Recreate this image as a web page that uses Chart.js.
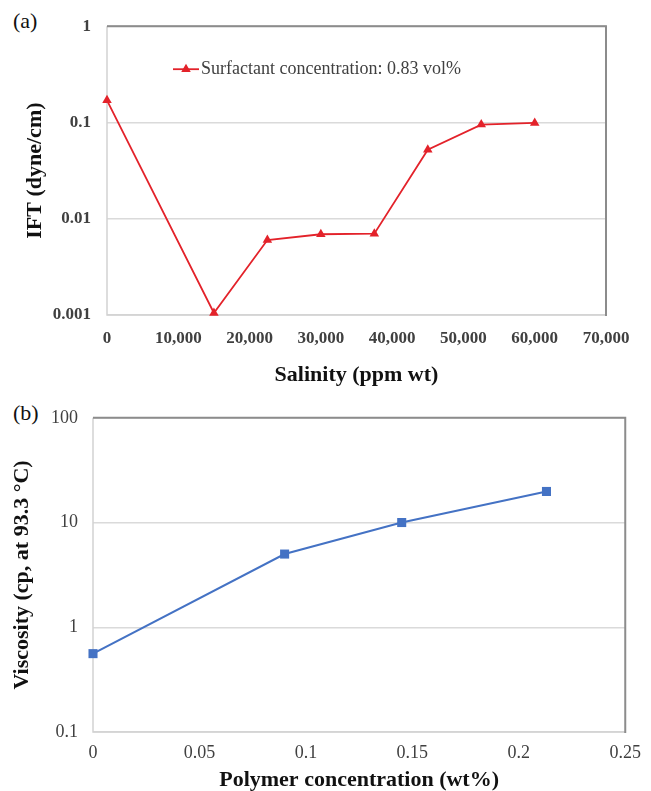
<!DOCTYPE html>
<html>
<head>
<meta charset="utf-8">
<title>IFT and viscosity</title>
<script src="https://cdn.jsdelivr.net/npm/chart.js@4.4.1/dist/chart.umd.min.js"></script>
<style>
  html, body { margin: 0; padding: 0; background: #fff; }
  #page { position: relative; width: 651px; height: 791px; overflow: hidden; }
  #page canvas { position: absolute; left: 0; }
  .panel-tag { position: absolute; font-family: "Liberation Serif", "Times New Roman", serif; font-size: 22px; color: #111; line-height: 1; }
</style>
</head>
<body>
<div id="page">
  <span class="panel-tag" style="left:13px; top:10px;">(a)</span>
  <span class="panel-tag" style="left:13px; top:402px;">(b)</span>
  <canvas id="iftChart" width="651" height="395" style="top:0;"></canvas>
  <canvas id="viscChart" width="651" height="399" style="top:392px;"></canvas>
</div>
<script>
// ---- data ----
const salinity = [0, 15000, 22500, 30000, 37500, 45000, 52500, 60000];
const ift = [0.17, 0.00105, 0.006, 0.0069, 0.007, 0.052, 0.095, 0.099];
const salinityTicks = [0, 10000, 20000, 30000, 40000, 50000, 60000, 70000];
const iftTicks = [0.001, 0.01, 0.1, 1];

const polymerConc = [0, 0.09, 0.145, 0.213];
const viscosity = [0.56, 5.0, 10.0, 19.8];
const polymerTicks = [0, 0.05, 0.1, 0.15, 0.2, 0.25];
const viscTicks = [0.1, 1, 10, 100];

const SERIF = '"Liberation Serif", "Times New Roman", serif';
const RED = '#e3222a';
const BLUE = '#4472c4';

// Excel-like plot frame: light left/bottom, darker top/right
const framePlugin = {
    id: 'frame',
    beforeDatasetsDraw(chart) {
        const { ctx, chartArea: a } = chart;
        ctx.save();
        ctx.strokeStyle = '#d2d2d2';
        ctx.lineWidth = 1.5;
        ctx.beginPath();
        ctx.moveTo(a.left, a.top);
        ctx.lineTo(a.left, a.bottom);
        ctx.lineTo(a.right, a.bottom);
        ctx.stroke();
        ctx.strokeStyle = '#8c8c8c';
        ctx.lineWidth = 2;
        ctx.beginPath();
        ctx.moveTo(a.left, a.top);
        ctx.lineTo(a.right, a.top);
        ctx.lineTo(a.right, a.bottom + 1);
        ctx.stroke();
        ctx.restore();
    }
};

// legend drawn inside the plot area
const insideLegend = {
    id: 'insideLegend',
    afterDatasetsDraw(chart, args, opts) {
        if (!opts || !opts.show) return;
        const ds = chart.data.datasets[0];
        const { ctx, chartArea: a } = chart;
        const x = a.left + opts.dx, y = a.top + opts.dy;
        ctx.save();
        ctx.strokeStyle = ds.borderColor;
        ctx.lineWidth = ds.borderWidth;
        ctx.beginPath();
        ctx.moveTo(x, y);
        ctx.lineTo(x + 26, y);
        ctx.stroke();
        const r = ds.pointRadius;
        const cx = x + 13;
        ctx.fillStyle = ds.backgroundColor;
        ctx.beginPath();
        ctx.moveTo(cx, y - r);
        ctx.lineTo(cx + r * 0.866, y + r / 2);
        ctx.lineTo(cx - r * 0.866, y + r / 2);
        ctx.closePath();
        ctx.fill();
        ctx.fillStyle = '#404040';
        ctx.font = '18px ' + SERIF;
        ctx.textBaseline = 'middle';
        ctx.textAlign = 'left';
        ctx.fillText(ds.label, x + 28, y);
        ctx.restore();
    }
};

function makeChart(id, cfg) {
    return new Chart(document.getElementById(id), {
        type: 'line',
        data: {
            datasets: [{
                label: cfg.label,
                data: cfg.xs.map((x, i) => ({ x: x, y: cfg.ys[i] })),
                borderColor: cfg.color,
                backgroundColor: cfg.color,
                borderWidth: cfg.lineWidth,
                pointStyle: cfg.pointStyle,
                pointRadius: cfg.pointRadius,
                pointBorderWidth: 0,
                tension: 0,
                clip: false
            }]
        },
        options: {
            responsive: false,
            animation: false,
            devicePixelRatio: 1,
            layout: { padding: cfg.padding },
            plugins: {
                legend: { display: false },
                tooltip: { enabled: false },
                insideLegend: cfg.legend
            },
            scales: {
                x: {
                    type: 'linear',
                    min: cfg.xTicks[0],
                    max: cfg.xTicks[cfg.xTicks.length - 1],
                    afterBuildTicks: s => { s.ticks = cfg.xTicks.map(v => ({ value: v })); },
                    afterFit: s => { s.height = cfg.xHeight; },
                    grid: { display: false, drawTicks: false },
                    border: { display: false },
                    ticks: {
                        padding: cfg.xTickPad,
                        maxRotation: 0,
                        autoSkip: false,
                        color: '#404040',
                        font: { family: SERIF, size: cfg.tickSize, weight: cfg.tickWeight },
                        callback: cfg.xFormat
                    },
                    title: {
                        display: true,
                        text: cfg.xTitle,
                        color: '#111',
                        padding: { top: 0, bottom: cfg.xTitlePad },
                        font: { family: SERIF, size: 22, weight: 'bold', lineHeight: 1 }
                    }
                },
                y: {
                    type: 'logarithmic',
                    min: cfg.yTicks[0],
                    max: cfg.yTicks[cfg.yTicks.length - 1],
                    afterBuildTicks: s => { s.ticks = cfg.yTicks.map(v => ({ value: v })); },
                    afterFit: s => { s.width = cfg.yWidth; },
                    grid: { color: '#dadada', lineWidth: 1.5, drawTicks: false },
                    border: { display: false },
                    ticks: {
                        padding: cfg.yTickPad,
                        autoSkip: false,
                        color: '#404040',
                        font: { family: SERIF, size: cfg.tickSize, weight: cfg.tickWeight },
                        callback: v => String(v)
                    },
                    title: {
                        display: true,
                        text: cfg.yTitle,
                        color: '#111',
                        padding: { top: cfg.yTitlePad, bottom: 0 },
                        font: { family: SERIF, size: 22, weight: 'bold', lineHeight: 1 }
                    }
                }
            }
        },
        plugins: [framePlugin, insideLegend]
    });
}

// (a) IFT vs salinity
makeChart('iftChart', {
    label: 'Surfactant concentration: 0.83 vol%',
    xs: salinity, ys: ift,
    xTicks: salinityTicks, yTicks: iftTicks,
    color: RED, lineWidth: 1.8, pointStyle: 'triangle', pointRadius: 5.5,
    padding: { top: 19, right: 45, left: 0, bottom: 0 },
    xHeight: 80, yWidth: 107,
    xTickPad: 13, yTickPad: 16,
    tickSize: 17, tickWeight: 'bold',
    xFormat: v => v.toLocaleString('en-US'),
    xTitle: 'Salinity (ppm wt)', xTitlePad: 9,
    yTitle: 'IFT (dyne/cm)', yTitlePad: 24,
    legend: { show: true, dx: 66, dy: 43 }
});

// (b) viscosity vs polymer concentration
makeChart('viscChart', {
    label: 'Viscosity',
    xs: polymerConc, ys: viscosity,
    xTicks: polymerTicks, yTicks: viscTicks,
    color: BLUE, lineWidth: 2, pointStyle: 'rect', pointRadius: 6.4,
    padding: { top: 16, right: 23, left: 0, bottom: 0 },
    xHeight: 59, yWidth: 93,
    xTickPad: 10, yTickPad: 15,
    tickSize: 18, tickWeight: 'normal',
    xFormat: v => String(+v.toFixed(2)),
    xTitle: 'Polymer concentration (wt%)', xTitlePad: 0,
    yTitle: 'Viscosity (cp, at 93.3 °C)', yTitlePad: 11,
    legend: { show: false }
});
</script>
</body>
</html>
